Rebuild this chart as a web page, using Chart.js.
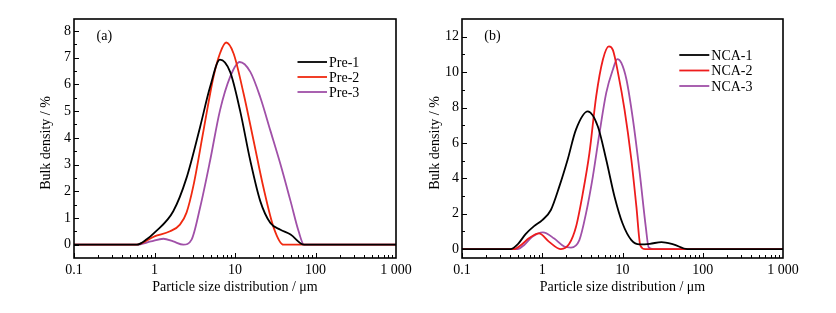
<!DOCTYPE html>
<html><head><meta charset="utf-8">
<script src="https://cdn.jsdelivr.net/npm/chart.js@4"></script>
<style>html,body{margin:0;padding:0;background:#fff;}.p{position:absolute;top:0;}</style>
</head><body>
<div class="p" style="left:0"><canvas id="ca" width="418" height="313"></canvas></div>
<div class="p" style="left:418px"><canvas id="cb" width="418" height="313"></canvas></div>
<script>
// ---- data ----
const xTickValues = [0.1, 1, 10, 100, 1000];
const xTickLabels = ["0.1", "1", "10", "100", "1 000"];
const leftYTicks = [0, 1, 2, 3, 4, 5, 6, 7, 8];
const rightYTicks = [0, 2, 4, 6, 8, 10, 12];
const xTitle = "Particle size distribution / \u03bcm";
const yTitle = "Bulk density / %";

const leftLabels = ["Pre-1", "Pre-2", "Pre-3"];
const pre1X = [0.1, 0.6, 0.8, 1.0, 1.71, 2.5, 3.68, 4.9, 6.5, 8.7, 11.6, 15.5, 20.6, 27.5, 36.7, 49, 72, 1000];
const pre1Y = [0, 0, 0.2, 0.45, 1.25, 2.5, 4.4, 5.9, 6.93, 6.47, 5.0, 3.14, 1.63, 0.81, 0.56, 0.38, 0, 0];
const pre2X = [0.1, 0.6, 1.0, 1.56, 2.07, 2.5, 3.04, 4.06, 5.4, 6.5, 7.76, 9.6, 12.8, 17, 22.6, 30.3, 40, 1000];
const pre2Y = [0, 0, 0.31, 0.5, 0.75, 1.2, 2.2, 4.27, 6.28, 7.16, 7.57, 7.16, 5.65, 3.9, 2.13, 0.63, 0, 0];
const pre3X = [0.1, 0.6, 0.9, 1.29, 1.71, 2.28, 2.9, 3.68, 4.9, 6.5, 8.7, 11.4, 15.5, 20.6, 27.5, 36.7, 49, 61.7, 72, 1000];
const pre3Y = [0, 0, 0.12, 0.22, 0.12, 0, 0.2, 1.38, 3.14, 5.02, 6.28, 6.84, 6.47, 5.52, 4.27, 3.01, 1.63, 0.5, 0, 0];

const rightLabels = ["NCA-1", "NCA-2", "NCA-3"];
const nca1X = [0.1, 0.40, 0.5, 0.62, 0.79, 1.0, 1.28, 1.63, 2.07, 2.63, 3.69, 4.93, 6.27, 7.96, 10, 12.9, 16.4, 21.9, 30.6, 43, 64.6, 1000];
const nca1Y = [0, 0, 0.3, 0.85, 1.3, 1.64, 2.21, 3.53, 5.05, 6.75, 7.78, 6.93, 5.05, 2.96, 1.46, 0.51, 0.27, 0.3, 0.4, 0.27, 0, 0];
const nca2X = [0.1, 0.44, 0.55, 0.68, 0.91, 1.22, 1.71, 2.17, 2.63, 3.2, 3.87, 4.7, 5.69, 6.77, 7.6, 8.79, 10.6, 12.9, 14.9, 16.7, 19.2, 1000];
const nca2Y = [0, 0, 0.25, 0.61, 0.89, 0.41, 0, 0.3, 1.25, 3.15, 5.42, 8.63, 10.7, 11.45, 11.24, 9.96, 7.88, 5.05, 2.4, 0.2, 0, 0];
const nca3X = [0.1, 0.49, 0.6, 0.75, 1.02, 1.41, 1.88, 2.28, 2.9, 3.51, 4.27, 5.17, 6.27, 7.6, 8.6, 9.67, 11.2, 13.5, 16.4, 19.5, 21.2, 24.2, 1000];
const nca3Y = [0, 0, 0.25, 0.7, 0.95, 0.6, 0.15, 0.09, 0.51, 2.02, 4.1, 6.56, 8.83, 10.15, 10.73, 10.52, 9.58, 7.31, 4.29, 1.26, 0.1, 0, 0];

// ---- styling ----
const FONT = "'Liberation Serif','Times New Roman',serif";
const pts = (xs, ys) => xs.map((x, i) => ({x: x, y: ys[i]}));

function ds(label, xs, ys, color) {
  return {label: label, data: pts(xs, ys), borderColor: color, backgroundColor: color,
    borderWidth: 1.8, pointRadius: 0, cubicInterpolationMode: 'monotone', fill: false};
}

const decor = {
  id: 'decor',
  afterDatasetsDraw(chart, args, o) {
    const ctx = chart.ctx, a = chart.chartArea;
    const xs = chart.scales.x, ys = chart.scales.y;
    ctx.save();
    ctx.strokeStyle = '#000';
    ctx.lineWidth = 1;
    ctx.beginPath();
    for (let d = 0.1; d < 1000; d *= 10) {
      for (let m = 1; m <= 9; m++) {
        const px = Math.round(xs.getPixelForValue(d * m)) + 0.5;
        const len = m === 1 ? 5 : 3;
        ctx.moveTo(px, a.bottom); ctx.lineTo(px, a.bottom - len);
      }
    }
    const step = o.yTicks[1] - o.yTicks[0];
    for (let v = o.yTicks[0]; v <= o.yTicks[o.yTicks.length - 1] + 1e-9; v += step / 2) {
      const py = Math.round(ys.getPixelForValue(v)) + 0.5;
      const major = Math.abs(v / step - Math.round(v / step)) < 1e-6;
      ctx.moveTo(a.left, py); ctx.lineTo(a.left + (major ? 5 : 3), py);
    }
    ctx.stroke();
    ctx.lineWidth = 1.6;
    ctx.strokeRect(a.left, a.top, a.right - a.left, a.bottom - a.top);
    // legend
    ctx.font = '14px ' + FONT;
    ctx.fillStyle = '#000';
    ctx.textAlign = 'left';
    ctx.textBaseline = 'middle';
    chart.data.datasets.forEach((d, i) => {
      const y = o.legY + i * o.legDy;
      ctx.beginPath();
      ctx.strokeStyle = d.borderColor;
      ctx.lineWidth = 1.8;
      ctx.moveTo(o.legX1, y); ctx.lineTo(o.legX2, y);
      ctx.stroke();
      ctx.fillText(d.label, o.legX2 + 2, y + 1);
    });
    ctx.fillText(o.panel, o.panelX, o.panelY);
    // y axis title
    ctx.save();
    ctx.translate(o.yTitleX, o.yTitleY);
    ctx.rotate(-Math.PI / 2);
    ctx.textAlign = 'center';
    ctx.fillText(yTitle, 0, 0);
    ctx.restore();
    ctx.restore();
  }
};

function make(id, datasets, c) {
  return new Chart(document.getElementById(id), {
    type: 'line',
    data: {datasets: datasets},
    plugins: [decor],
    options: {
      responsive: false, animation: false, devicePixelRatio: 1,
      layout: {padding: {top: 19, right: c.padRight, left: 0, bottom: 0}},
      plugins: {legend: {display: false}, tooltip: {enabled: false}, decor: c.decor},
      scales: {
        x: {
          type: 'logarithmic', min: 0.1, max: 1000, position: 'bottom',
          grid: {display: false, drawTicks: false}, border: {display: false},
          ticks: {font: {family: FONT, size: 14}, color: '#000', padding: 4, maxRotation: 0, autoSkip: false,
            callback: (v, i) => xTickLabels[i]},
          afterBuildTicks: s => { s.ticks = xTickValues.map(v => ({value: v})); },
          afterFit: s => { s.height = 55; },
          title: {display: true, text: xTitle, color: '#000', font: {family: FONT, size: 14}, padding: {top: 0, bottom: 17}}
        },
        y: {
          type: 'linear', min: c.yMin, max: c.yMax, position: 'left',
          grid: {display: false, drawTicks: false}, border: {display: false},
          ticks: {font: {family: FONT, size: 14}, color: '#000', padding: 3},
          afterBuildTicks: s => { s.ticks = c.yTicks.map(v => ({value: v})); },
          afterFit: s => { s.width = c.yWidth; },
          title: {display: false}
        }
      }
    }
  });
}

make('ca', [
  ds(leftLabels[0], pre1X, pre1Y, '#000000'),
  ds(leftLabels[1], pre2X, pre2Y, '#f02a10'),
  ds(leftLabels[2], pre3X, pre3Y, '#a050a8')
], {padRight: 22, yMin: -0.5, yMax: 8.45, yTicks: leftYTicks, yWidth: 74,
    decor: {yTicks: leftYTicks, legX1: 297.5, legX2: 327, legY: 62, legDy: 15, panel: '(a)', panelX: 96.5, panelY: 36.5,
            yTitleX: 46.5, yTitleY: 143}});

make('cb', [
  ds(rightLabels[0], nca1X, nca1Y, '#000000'),
  ds(rightLabels[1], nca2X, nca2Y, '#ee1c1c'),
  ds(rightLabels[2], nca3X, nca3Y, '#a050a8')
], {padRight: 53, yMin: -0.5, yMax: 13, yTicks: rightYTicks, yWidth: 44,
    decor: {yTicks: rightYTicks, legX1: 261.3, legX2: 291.3, legY: 55, legDy: 15.5, panel: '(b)', panelX: 66.3, panelY: 36,
            yTitleX: 17, yTitleY: 143}});
</script>
</body></html>
